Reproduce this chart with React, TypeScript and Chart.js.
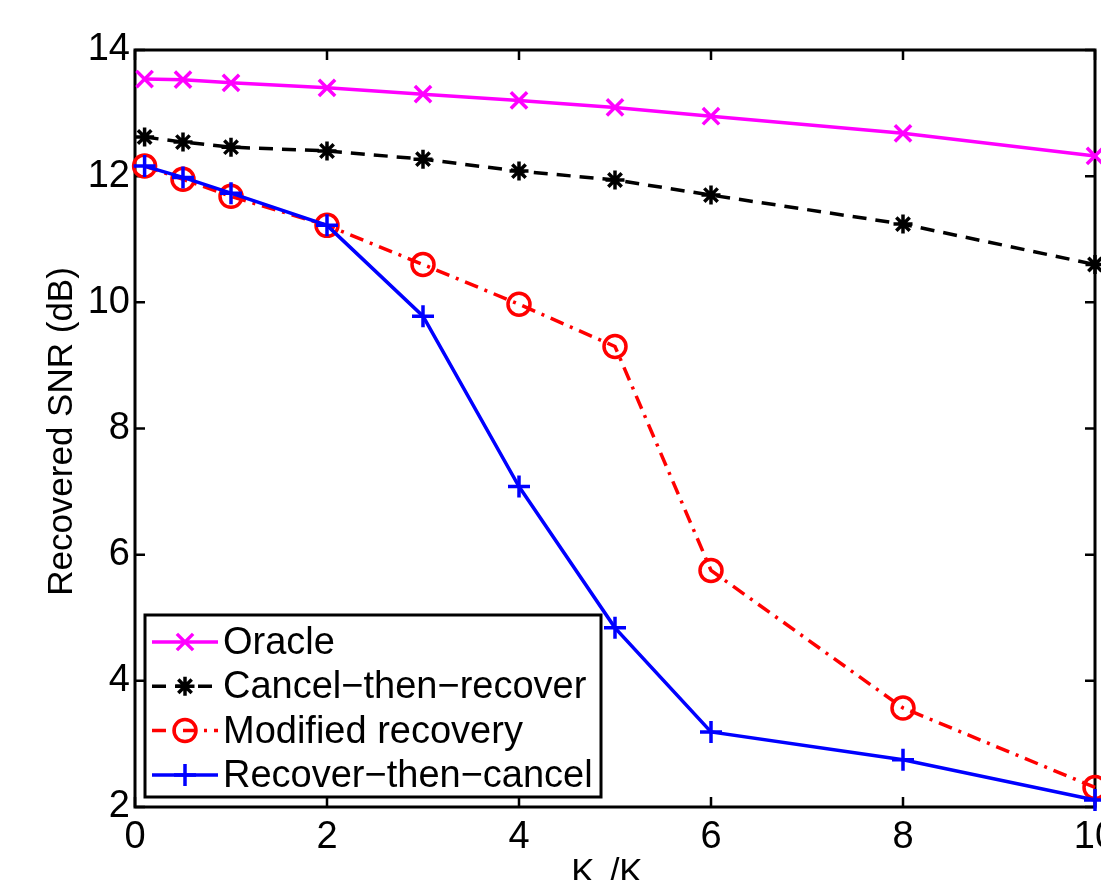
import React, { useEffect, useRef } from "react";
import { Chart, registerables } from "chart.js";
import { drawPoint } from "chart.js/helpers";

Chart.register(...registerables);

const xValues = [0.1, 0.5, 1, 2, 3, 4, 5, 6, 8, 10];
const oracle = [13.54, 13.53, 13.48, 13.4, 13.3, 13.2, 13.09, 12.95, 12.68, 12.32];
const cancelThenRecover = [12.62, 12.54, 12.46, 12.4, 12.27, 12.08, 11.94, 11.7, 11.24, 10.6];
const modifiedRecovery = [12.16, 11.95, 11.68, 11.22, 10.6, 9.97, 9.3, 5.75, 3.57, 2.31];
const recoverThenCancel = [12.16, 11.98, 11.73, 11.22, 9.78, 7.08, 4.84, 3.19, 2.75, 2.11];

const seriesLabels = ["Oracle", "Cancel\u2212then\u2212recover", "Modified recovery", "Recover\u2212then\u2212cancel"];
const xTicks = [0, 2, 4, 6, 8, 10];
const xTickLabels = ["0", "2", "4", "6", "8", "10"];
const yTicks = [2, 4, 6, 8, 10, 12, 14];
const xTitleMain = "K";
const xTitleSub = "I";
const xTitleRest = "/K";
const yTitle = "Recovered SNR (dB)";

const FONT = "'Liberation Sans', Arial, Helvetica, sans-serif";
const LW = 3.5;

const styles = [
  { color: "#ff00ff", dash: [] as number[], pointStyle: "crossRot", radius: 11.5 },
  { color: "#000000", dash: [14, 9], pointStyle: "star", radius: 9.5 },
  { color: "#ff0000", dash: [14, 7, 3, 7], pointStyle: "circle", radius: 11 },
  { color: "#0000ff", dash: [] as number[], pointStyle: "cross", radius: 11 },
];
const seriesValues = [oracle, cancelThenRecover, modifiedRecovery, recoverThenCancel];

const framePlugin = {
  id: "frame",
  beforeDraw(chart: any) {
    const { ctx } = chart;
    ctx.save();
    ctx.fillStyle = "#fff";
    ctx.fillRect(0, 0, chart.width, chart.height);
    ctx.restore();
  },
  beforeDatasetsDraw(chart: any) {
    const { ctx, chartArea: a, scales } = chart;
    ctx.save();
    ctx.strokeStyle = "#000";
    ctx.lineWidth = 3;
    ctx.setLineDash([]);
    ctx.strokeRect(a.left, a.top, a.right - a.left, a.bottom - a.top);
    ctx.lineWidth = 2.5;
    const tl = 10;
    ctx.beginPath();
    xTicks.forEach((v) => {
      const px = scales.x.getPixelForValue(v);
      ctx.moveTo(px, a.bottom);
      ctx.lineTo(px, a.bottom - tl);
      ctx.moveTo(px, a.top);
      ctx.lineTo(px, a.top + tl);
    });
    yTicks.forEach((v) => {
      const py = scales.y.getPixelForValue(v);
      ctx.moveTo(a.left, py);
      ctx.lineTo(a.left + tl, py);
      ctx.moveTo(a.right, py);
      ctx.lineTo(a.right - tl, py);
    });
    ctx.stroke();
    // X tick labels
    ctx.fillStyle = "#000";
    ctx.font = `38px ${FONT}`;
    ctx.textAlign = "center";
    ctx.textBaseline = "alphabetic";
    xTicks.forEach((v, i) => {
      ctx.fillText(xTickLabels[i], scales.x.getPixelForValue(v), a.bottom + 41);
    });
    ctx.restore();
  },
  afterDatasetsDraw(chart: any) {
    const { ctx, chartArea: a } = chart;
    ctx.save();
    // Legend
    const boxL = a.left + 10;
    const boxT = a.bottom - 192;
    const boxW = 456;
    const boxH = 182;
    ctx.fillStyle = "#fff";
    ctx.fillRect(boxL, boxT, boxW, boxH);
    ctx.strokeStyle = "#000";
    ctx.lineWidth = 3;
    ctx.setLineDash([]);
    ctx.strokeRect(boxL, boxT, boxW, boxH);
    chart.data.datasets.forEach((ds: any, i: number) => {
      const st = styles[i];
      const rowY = boxT + 27 + i * 44.3;
      const x0 = boxL + 7;
      const x1 = boxL + 73;
      ctx.strokeStyle = st.color;
      ctx.lineWidth = LW;
      ctx.setLineDash(st.dash);
      ctx.beginPath();
      ctx.moveTo(x0, rowY);
      ctx.lineTo(x1, rowY);
      ctx.stroke();
      ctx.setLineDash([]);
      ctx.fillStyle = "rgba(0,0,0,0)";
      drawPoint(ctx, { pointStyle: st.pointStyle, radius: st.radius, rotation: 0, borderWidth: LW } as any, (x0 + x1) / 2, rowY);
      ctx.fillStyle = "#000";
      ctx.font = `38px ${FONT}`;
      ctx.textAlign = "left";
      ctx.textBaseline = "alphabetic";
      ctx.fillText(ds.label, boxL + 78, rowY + 12);
    });
    // Y title
    ctx.save();
    ctx.translate(72, (a.top + a.bottom) / 2 + 3);
    ctx.rotate(-Math.PI / 2);
    ctx.font = `35px ${FONT}`;
    ctx.fillStyle = "#000";
    ctx.textAlign = "center";
    ctx.textBaseline = "alphabetic";
    ctx.fillText(yTitle, 0, 0);
    ctx.restore();
    // X title (subscript falls below the visible area)
    ctx.font = `35px ${FONT}`;
    const w1 = ctx.measureText(xTitleMain).width;
    const w3 = ctx.measureText(xTitleRest).width;
    const gap = 15;
    const total = w1 + gap + w3;
    const cx = (a.left + a.right) / 2 - 8;
    let x = cx - total / 2;
    const base = a.bottom + 76;
    ctx.fillStyle = "#000";
    ctx.textAlign = "left";
    ctx.textBaseline = "alphabetic";
    ctx.fillText(xTitleMain, x, base);
    ctx.font = `26px ${FONT}`;
    ctx.fillText(xTitleSub, x + w1 + 3, base + 22);
    ctx.font = `35px ${FONT}`;
    ctx.fillText(xTitleRest, x + w1 + gap, base);
    ctx.restore();
  },
};

export default function App() {
  const ref = useRef<HTMLCanvasElement>(null);
  useEffect(() => {
    document.body.style.margin = "0";
    const datasets = seriesValues.map((vals, i) => ({
      label: seriesLabels[i],
      data: xValues.map((x, j) => ({ x, y: vals[j] })),
      borderColor: styles[i].color,
      backgroundColor: "rgba(0,0,0,0)",
      borderWidth: LW,
      borderDash: styles[i].dash,
      pointStyle: styles[i].pointStyle,
      pointRadius: styles[i].radius,
      pointBorderWidth: LW,
      pointBorderColor: styles[i].color,
      pointBackgroundColor: "rgba(0,0,0,0)",
      tension: 0,
      fill: false,
      clip: false as any,
      order: 4 - i,
    }));
    const tickFont = { family: FONT, size: 38 };
    const chart = new Chart(ref.current as HTMLCanvasElement, {
      type: "line",
      data: { datasets },
      options: {
        responsive: false,
        animation: false,
        events: [],
        layout: { autoPadding: false, padding: { left: 0, right: 6, top: 50, bottom: 0 } },
        plugins: { legend: { display: false }, tooltip: { enabled: false } },
        scales: {
          x: {
            type: "linear",
            min: 0,
            max: 10,
            afterBuildTicks: (s: any) => {
              s.ticks = xTicks.map((v) => ({ value: v }));
            },
            afterFit: (s: any) => {
              s.height = 73;
              s.paddingLeft = 0;
              s.paddingRight = 0;
            },
            grid: { display: false, drawTicks: false },
            border: { display: false },
            ticks: { display: false },
          },
          y: {
            type: "linear",
            min: 2,
            max: 14,
            afterBuildTicks: (s: any) => {
              s.ticks = yTicks.map((v) => ({ value: v }));
            },
            afterFit: (s: any) => {
              s.width = 135;
              s.paddingTop = 0;
              s.paddingBottom = 0;
            },
            grid: { display: false, drawTicks: false },
            border: { display: false },
            ticks: { font: tickFont, color: "#000", padding: 5, autoSkip: false },
          },
        },
      } as any,
      plugins: [framePlugin],
    });
    return () => chart.destroy();
  }, []);
  return <canvas ref={ref} width={1101} height={880} style={{ display: "block" }} />;
}
